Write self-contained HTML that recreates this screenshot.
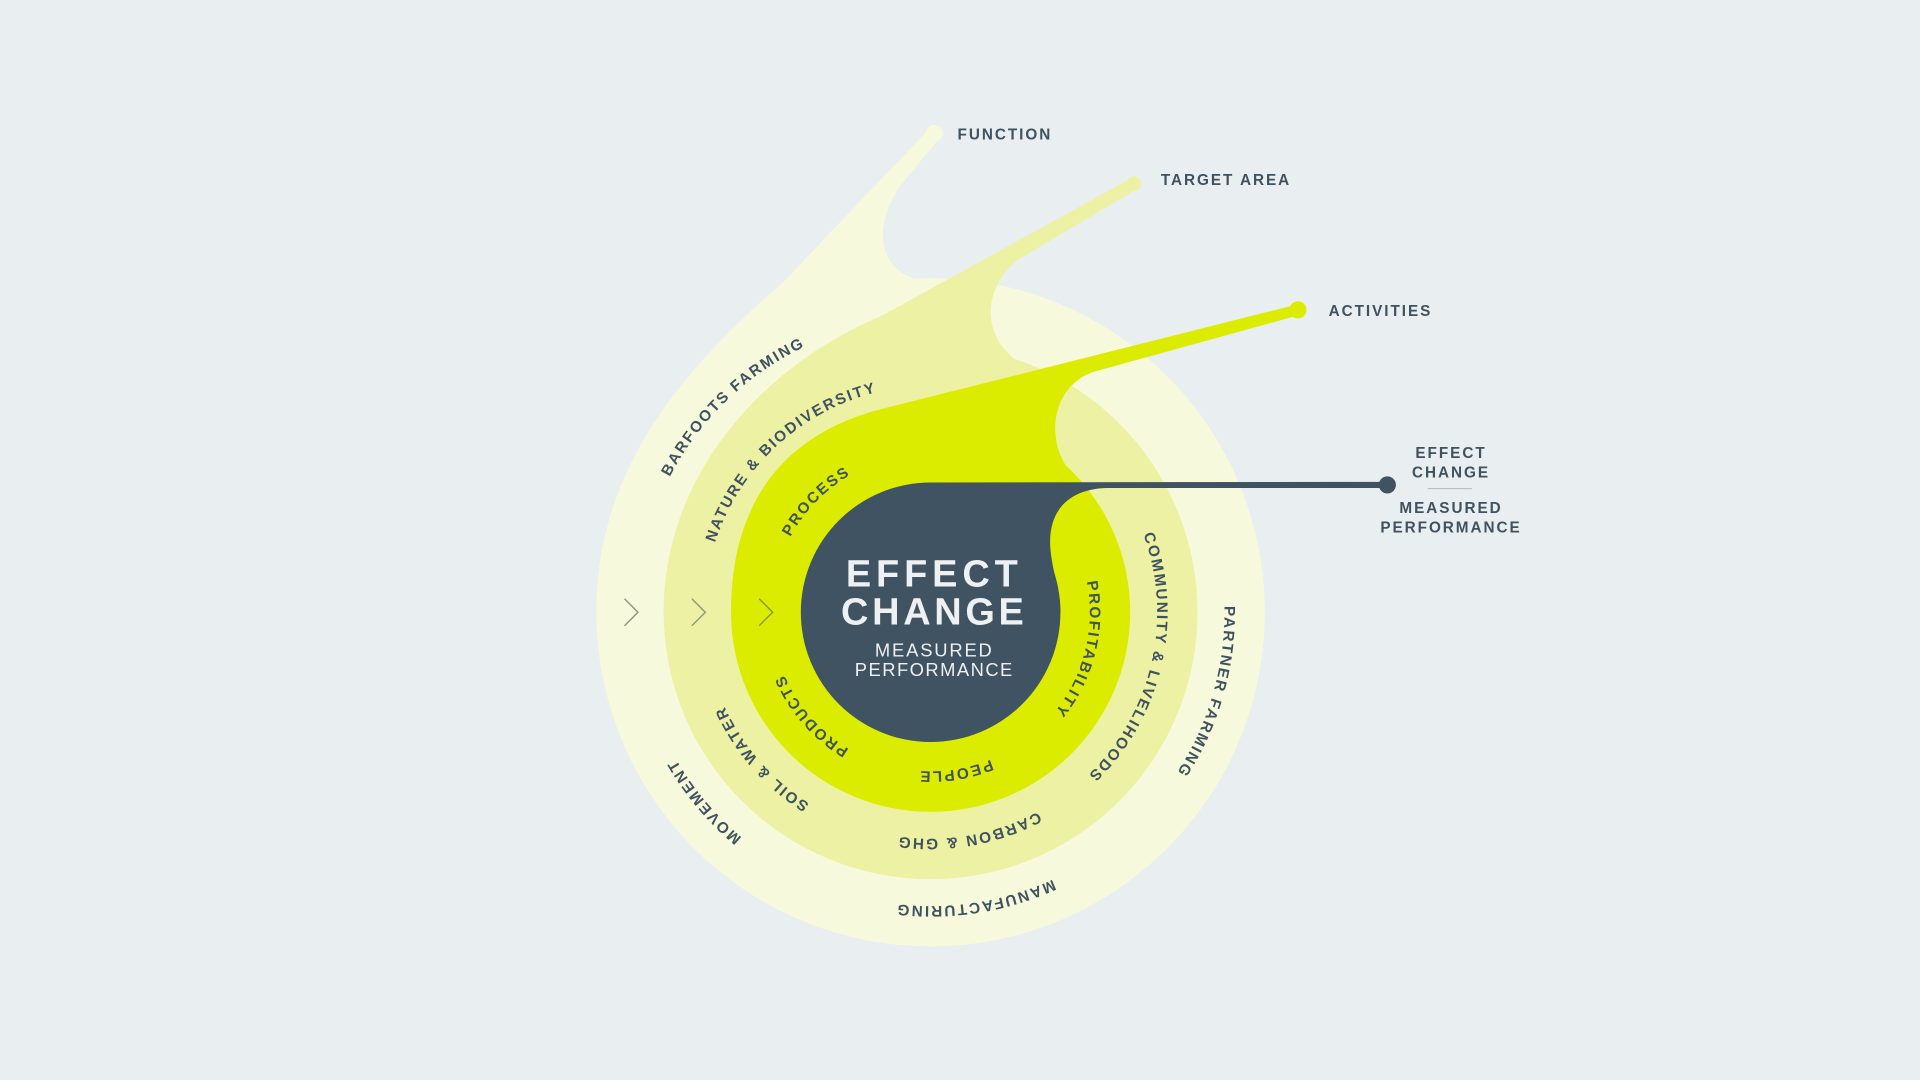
<!DOCTYPE html>
<html><head><meta charset="utf-8"><style>
html,body{margin:0;padding:0;background:#e9eef0;}
svg{display:block;}
.l{font-family:"Liberation Sans",sans-serif;font-weight:bold;font-size:12.5px;letter-spacing:1.6px;fill:#3f5260;}
</style></head><body>
<svg width="1920" height="1080" viewBox="0 0 1568 882" xmlns="http://www.w3.org/2000/svg">
<rect width="1568" height="882" fill="#e9eef0"/>
<defs>
<path id="c240" d="M760,260 A240,240 0 1 1 760,740 A240,240 0 1 1 760,260"/>
<path id="c185" d="M760,315 A185,185 0 1 1 760,685 A185,185 0 1 1 760,315"/>
<path id="c130" d="M760,370 A130,130 0 1 1 760,630 A130,130 0 1 1 760,370"/>
</defs>
<!-- outer -->
<circle cx="760" cy="500" r="273" fill="#f7f9dc"/>
<path d="M487,500 C487,380 560,300 640,230 L758,106 L767,113 L735,152 C715,182 715,215 745,227 L760,500 Z" fill="#f7f9dc"/>
<circle cx="763" cy="109" r="7" fill="#f7f9dc"/>
<!-- mid -->
<circle cx="760" cy="500" r="218" fill="#edf1a4"/>
<path d="M542,500 C542,390 620,300 720,258 L923,146 L929,154 L830,213 C803,236 800,275 834,297 L760,500 Z" fill="#edf1a4"/>
<circle cx="926" cy="150" r="6" fill="#edf1a4"/>
<!-- lime -->
<circle cx="760" cy="500" r="163" fill="#dcec00"/>
<path d="M597,500 C597,400 650,352 720,334 L1058,249 L1062,257 L892,304 C854,318 852,372 885,396 L760,500 Z" fill="#dcec00"/>
<circle cx="1060" cy="253" r="7" fill="#dcec00"/>
<!-- dark -->
<circle cx="760" cy="500" r="106" fill="#405362"/>
<path d="M760,394 L1133,393.5 L1133,398.5 L903,398.5 C868,400 855,422 858,450 C860,470 866,480 866,500 L760,500 Z" fill="#405362"/>
<circle cx="1133" cy="396" r="7" fill="#405362"/>
<!-- chevrons -->
<g fill="none" stroke="#8f9a80" stroke-width="1.2">
<path d="M510,489 L521,500 L510,511"/>
<path d="M565,489 L576,500 L565,511"/>
<path d="M620,489 L631,500 L620,511" stroke="#8a9a30"/>
</g>
<!-- ring labels -->
<text class="l"><textPath href="#c240" startOffset="1323.7" text-anchor="middle">BARFOOTS FARMING</textPath></text>
<text class="l"><textPath href="#c240" startOffset="444" text-anchor="middle">PARTNER FARMING</textPath></text>
<text class="l"><textPath href="#c240" startOffset="716.3" text-anchor="middle">MANUFACTURING</textPath></text>
<text class="l"><textPath href="#c240" startOffset="963.5" text-anchor="middle">MOVEMENT</textPath></text>
<text class="l"><textPath href="#c185" startOffset="1023.6" text-anchor="middle">NATURE &amp; BIODIVERSITY</textPath></text>
<text class="l"><textPath href="#c185" startOffset="332.6" text-anchor="middle">COMMUNITY &amp; LIVELIHOODS</textPath></text>
<text class="l"><textPath href="#c185" startOffset="548.9" text-anchor="middle">CARBON &amp; GHG</textPath></text>
<text class="l"><textPath href="#c185" startOffset="739.4" text-anchor="middle">SOIL &amp; WATER</textPath></text>
<text class="l"><textPath href="#c130" startOffset="712.5" text-anchor="middle">PROCESS</textPath></text>
<text class="l"><textPath href="#c130" startOffset="236" text-anchor="middle">PROFITABILITY</textPath></text>
<text class="l"><textPath href="#c130" startOffset="388" text-anchor="middle">PEOPLE</textPath></text>
<text class="l"><textPath href="#c130" startOffset="519.6" text-anchor="middle">PRODUCTS</textPath></text>
<!-- center -->
<g font-family="'Liberation Sans',sans-serif" fill="#eef0f2" text-anchor="middle">
<text x="763" y="479" font-size="31" font-weight="bold" letter-spacing="4">EFFECT</text>
<text x="763" y="510" font-size="31" font-weight="bold" letter-spacing="3">CHANGE</text>
<text x="763" y="536" font-size="15" letter-spacing="1.5">MEASURED</text>
<text x="763" y="552" font-size="15" letter-spacing="1.2">PERFORMANCE</text>
</g>
<!-- outside labels -->
<text class="l" x="782" y="114">FUNCTION</text>
<text class="l" x="948" y="151">TARGET AREA</text>
<text class="l" x="1085" y="258">ACTIVITIES</text>
<g text-anchor="middle">
<text class="l" x="1185" y="374">EFFECT</text>
<text class="l" x="1185" y="390">CHANGE</text>
<line x1="1166" y1="399" x2="1202" y2="399" stroke="#b8c0c4" stroke-width="1"/>
<text class="l" x="1185" y="419">MEASURED</text>
<text class="l" x="1185" y="435">PERFORMANCE</text>
</g>
</svg>
</body></html>
